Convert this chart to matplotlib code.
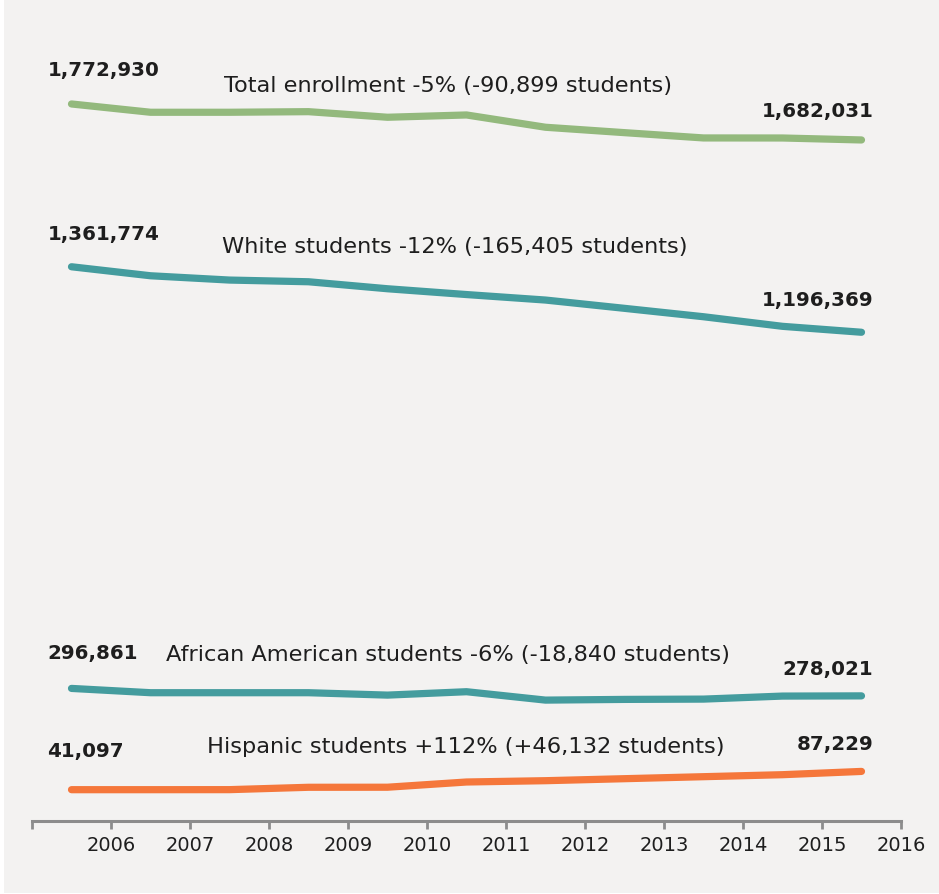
import matplotlib
matplotlib.use("Agg")
import matplotlib.pyplot as plt
from matplotlib.patches import Rectangle

# School-year enrollment, one point per year between the axis ticks
tick_labels = ["2006", "2007", "2008", "2009", "2010", "2011",
               "2012", "2013", "2014", "2015", "2016"]

total = [1772930, 1751980, 1751980, 1753500, 1739360, 1745170,
         1714120, 1700490, 1687110, 1687000, 1682031]
white = [1361774, 1339060, 1328200, 1323910, 1306240, 1291600,
         1277720, 1256780, 1235570, 1211340, 1196369]
african_american = [296861, 286010, 286010, 286010, 279950, 288530,
                    267330, 269100, 269860, 277500, 278021]
hispanic = [41097, 41097, 41200, 47150, 47300, 60500,
            63800, 68860, 73900, 78950, 87229]

series_names = [
    "Total enrollment -5% (-90,899 students)",
    "White students -12% (-165,405 students)",
    "African American students -6% (-18,840 students)",
    "Hispanic students +112% (+46,132 students)",
]

GREEN = "#93b97d"
TEAL = "#449c9e"
ORANGE = "#f5773b"
BG = "#f3f2f1"
TEXT = "#1e1e1e"
FONT = "DejaVu Sans"

W, H = 939, 894
fig = plt.figure(figsize=(W / 100, H / 100), dpi=100, facecolor="white")
fig.patches.append(Rectangle((4 / W, 1 - 893 / H), (939 - 4) / W, 893 / H,
                             transform=fig.transFigure, facecolor=BG,
                             edgecolor="none", zorder=-10))

ax = fig.add_axes([32 / W, (H - 821) / H, (901 - 32) / W, (821 - 20) / H])
ax.set_facecolor("none")

x = list(range(len(total)))
data = [total, white, african_american, hispanic]
colors = [GREEN, TEAL, TEAL, ORANGE]
for vals, c in zip(data, colors):
    ax.plot(x, vals, color=c, lw=5.2, solid_capstyle="round",
            solid_joinstyle="round", zorder=3)

ax.set_xlim(-0.5, 10.5)
ax.set_ylim(-38000, 1985000)

ax.set_xticks([i + 0.5 for i in range(-1, 11)])
ax.set_xticklabels([""] + tick_labels)
ax.tick_params(axis="x", direction="out", length=6, width=2, color="#8c8c8c",
               labelsize=14, labelcolor=TEXT, pad=5)
ax.set_yticks([])
for s in ["top", "right", "left"]:
    ax.spines[s].set_visible(False)
ax.spines["bottom"].set_color("#8c8c8c")
ax.spines["bottom"].set_linewidth(2.2)

for lbl in ax.get_xticklabels():
    lbl.set_fontfamily(FONT)

# value labels at both ends of every line
left_offsets = [33, 32, 35, 38]
right_offsets = [28, 32, 26, 27]
for vals, lo, ro in zip(data, left_offsets, right_offsets):
    ax.annotate(f"{vals[0]:,}", xy=(x[0], vals[0]), xytext=(-24, lo),
                textcoords="offset pixels", ha="left", va="center",
                fontsize=14.3, fontweight="bold", family=FONT, color=TEXT)
    ax.annotate(f"{vals[-1]:,}", xy=(x[-1], vals[-1]), xytext=(12, ro),
                textcoords="offset pixels", ha="right", va="center",
                fontsize=14.3, fontweight="bold", family=FONT, color=TEXT)

# series names
name_pos = [(224, 86), (222, 247), (166, 655), (207, 747)]
for name, (px, py) in zip(series_names, name_pos):
    fig.text(px / W, 1 - py / H, name, ha="left", va="center",
             fontsize=16.2, family=FONT, color=TEXT)

fig.savefig("out.png", dpi=100, facecolor=fig.get_facecolor())
